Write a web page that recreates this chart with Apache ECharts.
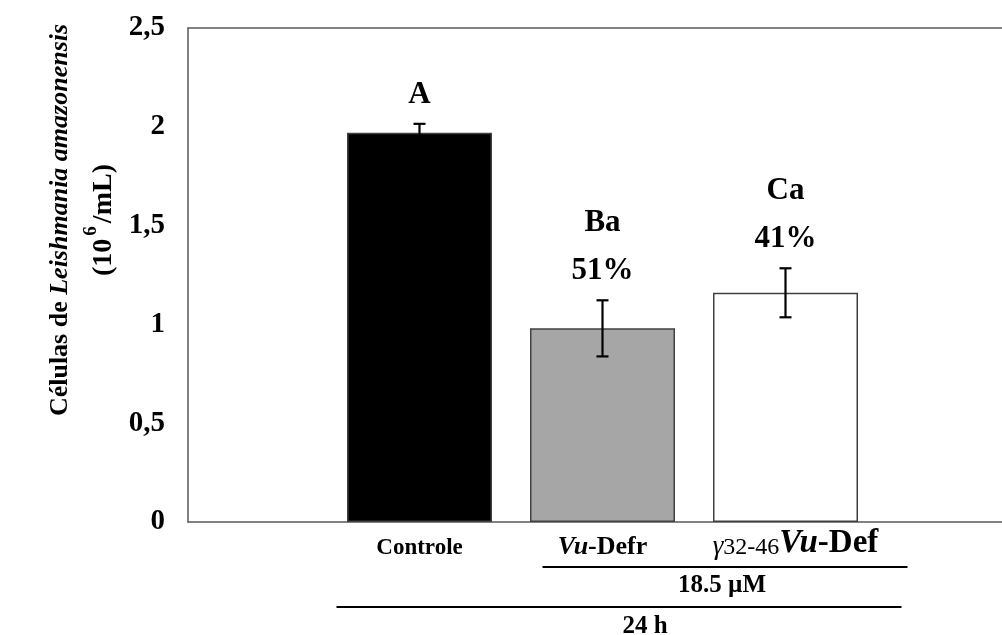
<!DOCTYPE html>
<html>
<head>
<meta charset="utf-8">
<script src="https://cdn.jsdelivr.net/npm/echarts@6/dist/echarts.min.js"></script>
<style>
html,body{margin:0;padding:0;background:#fff;}
#main{width:1002px;height:635px;}
</style>
</head>
<body>
<div id="main"></div>
<script>
// ---- data ----
const categories = ['Controle', 'Vu-Defr', 'γ32-46Vu-Def'];
const values = [1.97, 0.98, 1.16];
const errors = [0.045, 0.142, 0.124];
const letters = ['A', 'Ba', 'Ca'];
const percents = ['', '51%', '41%'];
const barColors = ['#000000', '#a6a6a6', '#ffffff'];
const yMin = 0, yMax = 2.5, yStep = 0.5;
const groupLabel1 = '18.5 µM';
const groupLabel2 = '24 h';

const FONT = '"Liberation Serif", "Times New Roman", serif';
const FRAME = { color: '#595959', width: 1.5 };

const chart = echarts.init(document.getElementById('main'));

const xRich = {
  n: { fontFamily: FONT, fontWeight: 'bold', fontSize: 23, color: '#000', verticalAlign: 'bottom', lineHeight: 32 },
  bb: { fontFamily: FONT, fontWeight: 'bold', fontSize: 26, color: '#000', verticalAlign: 'bottom', lineHeight: 32 },
  i: { fontFamily: FONT, fontWeight: 'bold', fontStyle: 'italic', fontSize: 26, color: '#000', verticalAlign: 'bottom', lineHeight: 32 },
  g: { fontFamily: FONT, fontWeight: 'normal', fontStyle: 'italic', fontSize: 27, color: '#000', verticalAlign: 'bottom', lineHeight: 32, padding: [0, 0, 0, 20] },
  s: { fontFamily: FONT, fontWeight: 'normal', fontSize: 24, color: '#000', verticalAlign: 'bottom', lineHeight: 32 },
  bi: { fontFamily: FONT, fontWeight: 'bold', fontStyle: 'italic', fontSize: 33, color: '#000', verticalAlign: 'bottom', lineHeight: 32 },
  bn: { fontFamily: FONT, fontWeight: 'bold', fontSize: 33, color: '#000', verticalAlign: 'bottom', lineHeight: 32 }
};

function xLabel(value, idx) {
  if (idx === 0) return '{n|' + value + '}';
  if (idx === 1) return '{i|Vu}{bb|-Defr}';
  return '{g|γ}{s|32-46}{bi|Vu}{bn|-Def}';
}

const frameLine = { show: true, lineStyle: { color: FRAME.color, width: FRAME.width } };

const option = {
  backgroundColor: '#fff',
  animation: false,
  grid: [
    { left: 188, top: 28, right: 0, height: 494 },
    { left: 328, top: 28, width: 549, height: 494 }
  ],
  xAxis: [
    { gridIndex: 0, type: 'value', min: 0, max: 1, position: 'bottom',
      axisLine: frameLine, axisTick: { show: false }, axisLabel: { show: false }, splitLine: { show: false } },
    { gridIndex: 0, type: 'value', min: 0, max: 1, position: 'top',
      axisLine: frameLine, axisTick: { show: false }, axisLabel: { show: false }, splitLine: { show: false } },
    {
      gridIndex: 1, type: 'category', data: categories,
      axisLine: { show: false }, axisTick: { show: false },
      axisLabel: { margin: 6, formatter: xLabel, rich: xRich, interval: 0 }
    }
  ],
  yAxis: [
    {
      gridIndex: 0, type: 'value', min: yMin, max: yMax, interval: yStep,
      axisLine: frameLine, axisTick: { show: false }, splitLine: { show: false },
      axisLabel: {
        margin: 23, fontFamily: FONT, fontWeight: 'bold', fontSize: 29, color: '#000',
        formatter: v => String(v).replace('.', ',')
      },
      name: '{n|Células de }{i|Leishmania amazonensis}\n{m|(10}{sup|6}{m|/mL)}',
      nameLocation: 'middle', nameRotate: 90, nameGap: 61,
      nameTextStyle: {
        padding: [0, 0, 0, 110],
        rich: {
          n: { fontFamily: FONT, fontWeight: 'bold', fontSize: 26, color: '#000', lineHeight: 44 },
          i: { fontFamily: FONT, fontWeight: 'bold', fontStyle: 'italic', fontSize: 26, color: '#000', lineHeight: 44 },
          m: { fontFamily: FONT, fontWeight: 'bold', fontSize: 28, color: '#000', lineHeight: 44 },
          sup: { fontFamily: FONT, fontWeight: 'bold', fontSize: 19, color: '#000', lineHeight: 44, verticalAlign: 'top', padding: [0, 3, 0, 3] }
        }
      }
    },
    { gridIndex: 1, type: 'value', min: yMin, max: yMax, interval: yStep, show: false, splitLine: { show: false } }
  ],
  series: [
    {
      type: 'bar', xAxisIndex: 2, yAxisIndex: 1, barWidth: 145,
      data: values.map((v, i) => ({ value: v, itemStyle: { color: barColors[i] } })),
      itemStyle: { borderColor: '#404040', borderWidth: 1.5 }
    },
    {
      type: 'custom', xAxisIndex: 2, yAxisIndex: 1, z: 5,
      data: values.map((v, i) => [i, v, errors[i]]),
      renderItem: function (params, api) {
        const i = api.value(0), v = api.value(1), e = api.value(2);
        const top = api.coord([i, v + e]);
        const bot = api.coord([i, v - e]);
        const cap = 6;
        const st = { stroke: '#000', lineWidth: 2.2 };
        const children = [
          { type: 'line', shape: { x1: top[0], y1: top[1], x2: bot[0], y2: bot[1] }, style: st },
          { type: 'line', shape: { x1: top[0] - cap, y1: top[1], x2: top[0] + cap, y2: top[1] }, style: st },
          { type: 'line', shape: { x1: bot[0] - cap, y1: bot[1], x2: bot[0] + cap, y2: bot[1] }, style: st }
        ];
        const tStyle = { fontFamily: FONT, fontWeight: 'bold', fontSize: 31, fill: '#000', align: 'center', verticalAlign: 'middle' };
        let y = top[1] - 29;
        if (percents[i]) {
          children.push({ type: 'text', x: top[0], y: y, style: Object.assign({ text: percents[i] }, tStyle) });
          y -= 48;
        }
        children.push({ type: 'text', x: top[0], y: y, style: Object.assign({ text: letters[i] }, tStyle) });
        return { type: 'group', children: children };
      }
    }
  ]
};
chart.setOption(option);

// group brackets under the category labels, placed relative to category centres
const c = categories.map((_, i) => chart.convertToPixel({ xAxisIndex: 2 }, i));
const axisY = chart.convertToPixel({ yAxisIndex: 1 }, 0);
const line1 = { x1: c[1] - 60, x2: c[2] + 122, y: axisY + 45 };
const line2 = { x1: c[0] - 83, x2: c[2] + 116, y: axisY + 85 };
const gStyle = { fontFamily: FONT, fontWeight: 'bold', fontSize: 25, fill: '#000', align: 'center', verticalAlign: 'middle' };
chart.setOption({
  graphic: [
    { type: 'line', shape: { x1: line1.x1, y1: line1.y, x2: line1.x2, y2: line1.y }, style: { stroke: '#000', lineWidth: 2 } },
    { type: 'text', x: (line1.x1 + line1.x2) / 2 - 3, y: line1.y + 19, style: Object.assign({ text: groupLabel1 }, gStyle) },
    { type: 'line', shape: { x1: line2.x1, y1: line2.y, x2: line2.x2, y2: line2.y }, style: { stroke: '#000', lineWidth: 2 } },
    { type: 'text', x: (line2.x1 + line2.x2) / 2 + 26, y: line2.y + 20, style: Object.assign({ text: groupLabel2 }, gStyle) }
  ]
});
</script>
</body>
</html>
